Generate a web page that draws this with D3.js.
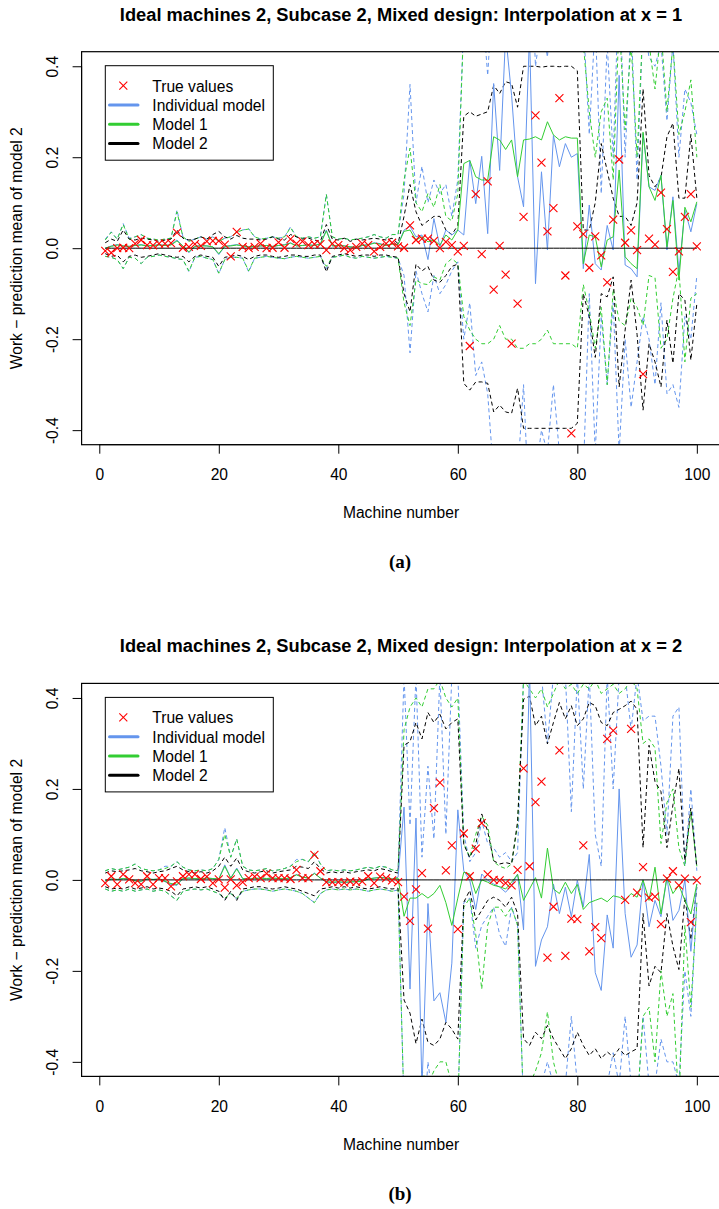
<!DOCTYPE html>
<html><head><meta charset="utf-8">
<script src="https://cdn.jsdelivr.net/npm/d3@7"></script>
<style>body{margin:0;background:#fff}text{font-family:"Liberation Sans",Arial,Helvetica,sans-serif}</style>
</head><body>
<svg id="c" width="719" height="1209"></svg>
<script>
const machines = d3.range(1, 101);
const xTicks = [0, 20, 40, 60, 80, 100];
const yTicks = [-0.4, -0.2, 0, 0.2, 0.4];
const legendLabels = ["True values", "Individual model", "Model 1", "Model 2"];
const titles = ["Ideal machines 2, Subcase 2, Mixed design: Interpolation at x = 1",
                "Ideal machines 2, Subcase 2, Mixed design: Interpolation at x = 2"];
const panelTags = ["(a)", "(b)"];

// ---------- Panel (a) ----------
const trueA = [-0.006,-0.01,0,0.001,0,0.01,0.018,0.007,0.006,0.01,
0.01,0.011,0.034,0.001,0.003,0.009,0.005,0.015,0.016,0.016,
0.008,-0.018,0.036,0.003,0,0.003,0.01,0,0.001,0.013,
0.001,0.02,0.01,0.015,0.007,0.009,0.009,-0.004,0.01,0.007,
0,-0.004,0.003,0.01,0.007,-0.007,0.003,0.01,0.012,0.004,
0.001,0.05,0.018,0.021,0.021,0.016,0,0.014,0.007,-0.007,
0.005,-0.215,0.119,-0.013,0.147,-0.091,0.005,-0.058,-0.21,-0.122,
0.069,0.48,0.292,0.188,0.037,0.088,0.33,-0.06,-0.407,0.048,
0.031,-0.043,0.026,-0.016,-0.075,0.063,0.195,0.012,0.039,-0.004,
-0.277,0.021,0.008,0.122,0.042,-0.052,-0.007,0.069,0.119,0.004];
const indivMeanA = [0,0.005,0.008,0.005,0.004,0.006,0.008,0.005,0.006,0.008,
0.006,0.008,0.018,0.005,-0.01,0.004,0.006,0.005,0.003,-0.014,
0.004,0.006,0.008,0.005,0.003,0.004,0.005,0.006,0.004,0.006,
0.008,0.012,0.005,0.006,0.008,0.006,0.01,0.04,0.005,0.006,
0.005,0.003,0.002,0.006,0.008,0.012,0.01,0.006,0.01,0.008,
0.04,0.048,0.025,0.029,-0.025,0.065,0.003,0.04,0.029,0.04,
0.029,0.193,0.098,0.202,0.032,0.362,0.171,0.47,0.336,0.157,
0.091,0.47,-0.078,0.168,-0.004,0.248,0.179,0.23,0.2,0.208,
-0.045,0.095,-0.034,-0.048,0.05,-0.004,0.38,-0.037,-0.045,-0.063,
0.252,0.135,0.127,0.16,-0.004,0.113,-0.052,0.084,0.036,0.098];
const indivHiA = [0.02,0.036,0.02,0.054,0.022,0.025,0.03,0.022,0.02,0.018,
0.02,0.022,0.084,0.025,0.015,0.02,0.025,0.02,0.025,0.015,
0.022,0.025,0.035,0.04,0.043,0.025,0.02,0.022,0.025,0.022,
0.025,0.047,0.025,0.022,0.025,0.022,0.025,0.119,0.025,0.02,
0.022,0.018,0.02,0.022,0.025,0.03,0.025,0.022,0.03,0.03,
0.12,0.36,0.1,0.18,0.1,0.15,0.12,0.14,0.07,0.15,
0.5,0.45,0.5,0.55,0.38,0.6,0.5,0.7,0.6,0.5,
0.45,0.7,0.4,0.5,0.42,0.6,0.5,0.55,0.5,0.5,
0.5,0.25,0.5,0.12,0.45,0.2,0.6,0.2,0.5,0.15,
0.5,0.42,0.4,0.45,0.28,0.45,0.2,0.35,0.32,0.25];
const indivLoA = [-0.018,-0.02,-0.025,-0.045,-0.02,-0.022,-0.034,-0.02,-0.018,-0.015,
-0.018,-0.02,-0.023,-0.025,-0.052,-0.02,-0.018,-0.022,-0.025,-0.056,
-0.025,-0.02,-0.02,-0.022,-0.052,-0.022,-0.02,-0.018,-0.02,-0.022,
-0.023,-0.02,-0.018,-0.02,-0.022,-0.02,-0.018,-0.045,-0.02,-0.018,
-0.015,-0.02,-0.022,-0.018,-0.02,-0.022,-0.02,-0.018,-0.02,-0.022,
-0.06,-0.23,-0.05,-0.1,-0.14,-0.06,-0.1,-0.08,-0.05,-0.03,
-0.2,-0.12,-0.28,-0.25,-0.32,-0.5,-0.45,-0.5,-0.45,-0.5,
-0.3,-0.6,-0.5,-0.4,-0.45,-0.3,-0.45,-0.6,-0.45,-0.5,
-0.5,-0.1,-0.45,-0.15,-0.3,-0.12,-0.45,-0.2,-0.35,-0.25,
-0.15,-0.2,-0.3,-0.12,-0.32,-0.3,-0.35,-0.15,-0.2,-0.06];
const m1MeanA = [0,0.004,0.007,0.005,0.004,0.006,0.007,0.005,0.006,0.007,
0.006,0.007,0.016,0.005,-0.008,0.004,0.005,0.005,0.003,-0.012,
0.004,0.005,0.007,0.005,0.003,0.004,0.005,0.006,0.004,0.006,
0.007,0.011,0.005,0.006,0.007,0.006,0.009,0.038,0.005,0.006,
0.005,0.003,0.002,0.006,0.007,0.011,0.009,0.006,0.009,0.008,
0.037,0.04,0.018,0.025,0.014,0.018,0.007,0.029,0.018,0.04,
0.186,0.193,0.157,0.15,0.15,0.245,0.238,0.217,0.238,0.157,
0.238,0.24,0.245,0.238,0.278,0.249,0.238,0.245,0.242,0.242,
-0.034,0.029,0.025,-0.041,0.018,0.025,0.172,-0.019,-0.034,-0.045,
0.255,0.135,0.105,0.16,0.003,0.105,-0.07,0.09,0.058,0.102];
const m1HiA = [0.018,0.035,0.02,0.052,0.02,0.025,0.03,0.022,0.02,0.018,
0.02,0.022,0.08,0.025,0.015,0.02,0.025,0.02,0.025,0.015,
0.022,0.025,0.035,0.04,0.042,0.025,0.02,0.022,0.025,0.022,
0.025,0.045,0.025,0.022,0.025,0.022,0.025,0.118,0.025,0.02,
0.022,0.018,0.02,0.022,0.025,0.03,0.025,0.022,0.03,0.03,
0.15,0.22,0.1,0.08,0.12,0.09,0.14,0.07,0.06,0.12,
0.5,0.55,0.48,0.5,0.52,0.6,0.55,0.5,0.58,0.5,
0.55,0.52,0.6,0.55,0.58,0.55,0.5,0.52,0.55,0.5,
0.45,0.3,0.2,0.3,0.33,0.15,0.5,0.26,0.45,0.2,
0.5,0.45,0.35,0.48,0.3,0.45,0.25,0.3,0.37,0.2];
const m1LoA = [-0.018,-0.02,-0.025,-0.045,-0.02,-0.022,-0.034,-0.02,-0.018,-0.015,
-0.018,-0.02,-0.023,-0.025,-0.05,-0.02,-0.018,-0.022,-0.025,-0.055,
-0.025,-0.02,-0.02,-0.022,-0.05,-0.022,-0.02,-0.018,-0.02,-0.022,
-0.023,-0.02,-0.018,-0.02,-0.022,-0.02,-0.018,-0.04,-0.02,-0.018,
-0.015,-0.02,-0.022,-0.018,-0.02,-0.022,-0.02,-0.018,-0.02,-0.022,
-0.12,-0.17,-0.07,-0.078,-0.08,-0.063,-0.07,-0.034,-0.023,-0.034,
-0.15,-0.18,-0.2,-0.21,-0.21,-0.2,-0.17,-0.2,-0.2,-0.22,
-0.22,-0.21,-0.21,-0.2,-0.18,-0.21,-0.21,-0.21,-0.21,-0.22,
-0.08,-0.14,-0.22,-0.13,-0.3,-0.09,-0.16,-0.17,-0.11,-0.13,
-0.17,-0.06,-0.065,-0.22,-0.2,-0.11,-0.045,-0.25,-0.11,-0.1];
const m2MeanA = machines.map(() => 0);
const m2HiA = [0.012,0.02,0.015,0.04,0.02,0.018,0.022,0.02,0.018,0.015,
0.018,0.02,0.04,0.022,0.018,0.02,0.025,0.02,0.03,0.037,
0.025,0.02,0.028,0.022,0.02,0.02,0.018,0.02,0.025,0.02,
0.018,0.03,0.025,0.02,0.022,0.018,0.015,0.052,0.02,0.018,
0.022,0.015,0.02,0.018,0.02,0.022,0.02,0.018,0.022,0.01,
0.07,0.14,0.08,0.05,0.06,0.07,0.07,0.04,0.03,0.05,
0.29,0.3,0.29,0.295,0.3,0.358,0.34,0.366,0.362,0.31,
0.4,0.4,0.4,0.398,0.4,0.4,0.399,0.4,0.4,0.39,
0.04,0.04,0.1,0.23,0.17,0.11,0.07,0.07,0.05,0.1,
0.35,0.16,0.135,0.155,0.245,0.275,0.11,0.11,0.25,0.11];
const m2LoA = [-0.012,-0.018,-0.015,-0.03,-0.018,-0.015,-0.02,-0.018,-0.015,-0.012,
-0.015,-0.018,-0.02,-0.018,-0.03,-0.018,-0.015,-0.018,-0.02,-0.04,
-0.02,-0.018,-0.015,-0.018,-0.025,-0.018,-0.015,-0.015,-0.018,-0.02,
-0.018,-0.015,-0.015,-0.018,-0.018,-0.015,-0.015,-0.052,-0.018,-0.015,
-0.012,-0.015,-0.018,-0.015,-0.015,-0.018,-0.015,-0.015,-0.018,-0.02,
-0.1,-0.14,-0.035,-0.05,-0.04,-0.07,-0.075,-0.06,-0.04,-0.035,
-0.297,-0.312,-0.294,-0.294,-0.297,-0.36,-0.345,-0.36,-0.363,-0.308,
-0.396,-0.396,-0.396,-0.396,-0.396,-0.396,-0.396,-0.396,-0.396,-0.385,
-0.1,-0.15,-0.24,-0.1,-0.107,-0.063,-0.305,-0.18,-0.07,-0.19,
-0.356,-0.21,-0.25,-0.305,-0.158,-0.253,-0.1,-0.114,-0.246,-0.122];

// ---------- Panel (b) ----------
const trueB = [-0.007,0.008,-0.01,0.012,0.001,-0.007,-0.01,0.008,-0.01,0.004,
0.004,-0.014,-0.003,0.008,0.012,0.012,0.002,0.007,-0.007,0.001,
-0.017,0.001,-0.012,-0.005,0.004,0.007,0.004,0.014,0.004,0.004,
0.004,0.002,0.022,0.004,0.004,0.055,0.019,-0.005,-0.005,-0.005,
-0.006,-0.004,-0.005,-0.003,0.008,-0.007,0.007,0.004,-0.001,-0.005,
-0.037,-0.09,-0.021,0.015,-0.107,0.158,0.214,0.021,0.076,-0.108,
0.102,0.008,0.069,0.125,0.012,0,-0.001,-0.007,-0.012,0.022,
0.245,0.03,0.171,0.216,-0.171,-0.059,0.285,-0.167,-0.085,-0.086,
0.076,-0.157,-0.104,-0.128,0.31,0.328,0.47,-0.044,0.332,-0.028,
0.028,-0.039,-0.037,-0.097,0.003,0.019,-0.012,0.003,-0.093,-0.001];
const indivMeanB = [-0.003,0.002,0.001,0.003,0.002,-0.002,-0.003,0.002,0.001,0.002,
-0.004,-0.01,-0.012,0.003,0.004,0.003,0.002,0.004,0.003,0.002,
0.033,0.004,0.026,0.003,0.002,0.003,0.004,0.003,0.004,0.003,
0.002,0.005,0.012,0.006,0.004,0.015,0.004,-0.005,-0.006,-0.005,
-0.006,-0.005,-0.004,-0.003,0.002,0.004,0.006,0.004,0.002,0.006,
0.16,-0.24,0.136,-0.46,-0.052,-0.266,-0.248,-0.313,-0.183,0.154,
0.02,-0.001,-0.065,0.013,-0.001,-0.009,-0.016,-0.027,-0.012,0.013,
-0.11,0.47,-0.19,-0.132,-0.103,-0.009,-0.074,-0.016,-0.081,-0.001,
-0.059,0.056,-0.204,-0.243,-0.077,-0.15,0.2,-0.074,-0.17,-0.143,
0,-0.103,-0.045,-0.081,0.006,-0.089,-0.067,0,-0.157,-0.009];
const indivHiB = [0.02,0.025,0.022,0.025,0.028,0.035,0.025,0.022,0.02,0.022,
0.03,0.03,0.04,0.028,0.022,0.02,0.022,0.02,0.025,0.045,
0.115,0.05,0.09,0.03,0.022,0.02,0.022,0.025,0.02,0.022,
0.025,0.03,0.045,0.045,0.04,0.06,0.035,0.02,0.022,0.02,
0.022,0.02,0.022,0.025,0.028,0.025,0.03,0.028,0.022,0.02,
0.45,0.12,0.45,0.05,0.25,0.09,0.45,0.1,0.45,0.45,
0.1,0.04,0.06,0.13,0.08,0.07,0.05,0.06,0.04,0.06,
0.45,0.6,0.45,0.45,0.3,0.45,0.5,0.45,0.15,0.45,
0.2,0.45,0.1,0.03,0.45,0.2,0.45,0.45,0.33,0.45,
0.35,0.36,0.36,0.25,0.1,0.36,0.38,0.03,0.2,0.02];
const indivLoB = [-0.02,-0.025,-0.022,-0.025,-0.02,-0.025,-0.022,-0.02,-0.025,-0.022,
-0.025,-0.035,-0.045,-0.025,-0.022,-0.02,-0.022,-0.02,-0.025,-0.03,
-0.042,-0.03,-0.042,-0.025,-0.022,-0.02,-0.02,-0.022,-0.025,-0.022,
-0.02,-0.022,-0.025,-0.03,-0.04,-0.05,-0.03,-0.022,-0.02,-0.022,
-0.02,-0.022,-0.02,-0.022,-0.025,-0.022,-0.02,-0.022,-0.025,-0.022,
-0.5,-0.45,-0.5,-0.6,-0.4,-0.5,-0.5,-0.5,-0.45,-0.5,
-0.05,-0.04,-0.15,-0.1,-0.08,-0.06,-0.12,-0.146,-0.06,-0.1,
-0.5,-0.45,-0.5,-0.45,-0.4,-0.45,-0.5,-0.45,-0.3,-0.45,
-0.45,-0.5,-0.45,-0.5,-0.45,-0.38,-0.45,-0.3,-0.45,-0.5,
-0.3,-0.45,-0.45,-0.35,-0.4,-0.4,-0.45,-0.2,-0.3,-0.05];
const m1MeanB = [-0.002,0.002,0.001,0.003,0.002,-0.002,-0.003,0.002,0.001,0.002,
-0.003,-0.008,-0.01,0.003,0.004,0.003,0.002,0.004,0.003,0.002,
0.03,0.004,0.024,0.003,0.002,0.003,0.004,0.003,0.004,0.003,
0.002,0.005,0.011,0.006,0.004,0.014,0.004,-0.004,-0.005,-0.004,
-0.005,-0.004,-0.004,-0.003,0.002,0.004,0.005,0.004,0.002,0.004,
-0.08,-0.04,-0.04,-0.03,-0.04,-0.03,-0.012,-0.05,-0.1,-0.04,
0.017,0.013,-0.03,0,-0.005,-0.012,-0.015,-0.02,-0.005,0.012,
-0.045,-0.02,0.005,-0.04,0.07,-0.02,-0.03,-0.005,-0.03,-0.01,
-0.065,-0.05,-0.045,-0.04,-0.048,-0.035,-0.038,-0.045,-0.03,-0.038,
0,-0.045,0.028,-0.075,0.006,-0.03,-0.012,-0.045,-0.075,-0.009];
const m1HiB = [0.02,0.025,0.022,0.025,0.028,0.035,0.025,0.022,0.02,0.022,
0.025,0.03,0.04,0.028,0.022,0.02,0.022,0.02,0.025,0.045,
0.1,0.05,0.09,0.03,0.022,0.02,0.022,0.025,0.02,0.022,
0.025,0.03,0.04,0.045,0.04,0.06,0.035,0.02,0.022,0.02,
0.022,0.02,0.022,0.025,0.028,0.025,0.03,0.028,0.022,0.02,
0.33,0.38,0.4,0.38,0.42,0.42,0.44,0.4,0.38,0.4,
0.08,0.05,0.1,0.14,0.12,0.04,0.03,0.025,0.035,0.12,
0.44,0.42,0.4,0.42,0.38,0.41,0.44,0.42,0.43,0.41,
0.43,0.42,0.44,0.41,0.42,0.43,0.41,0.42,0.44,0.42,
0.3,0.31,0.29,0.08,0.17,0.2,0.07,0.03,0.15,0.03];
const m1LoB = [-0.02,-0.025,-0.022,-0.025,-0.02,-0.025,-0.022,-0.02,-0.025,-0.022,
-0.025,-0.035,-0.045,-0.025,-0.022,-0.02,-0.022,-0.02,-0.025,-0.03,
-0.04,-0.03,-0.04,-0.025,-0.022,-0.02,-0.02,-0.022,-0.025,-0.022,
-0.02,-0.022,-0.025,-0.03,-0.04,-0.05,-0.03,-0.022,-0.02,-0.022,
-0.02,-0.022,-0.02,-0.022,-0.025,-0.022,-0.02,-0.022,-0.025,-0.022,
-0.5,-0.45,-0.5,-0.42,-0.45,-0.42,-0.4,-0.4,-0.45,-0.5,
-0.06,-0.04,-0.12,-0.24,-0.1,-0.06,-0.06,-0.08,-0.06,-0.1,
-0.5,-0.45,-0.42,-0.38,-0.29,-0.4,-0.45,-0.5,-0.45,-0.5,
-0.45,-0.5,-0.45,-0.5,-0.45,-0.5,-0.45,-0.5,-0.45,-0.5,
-0.3,-0.28,-0.4,-0.2,-0.3,-0.25,-0.5,-0.1,-0.28,-0.05];
const m2MeanB = machines.map(() => 0);
const m2HiB = [0.015,0.02,0.018,0.02,0.022,0.025,0.02,0.018,0.015,0.018,
0.02,0.025,0.03,0.022,0.018,0.015,0.018,0.015,0.02,0.03,
0.05,0.03,0.048,0.022,0.018,0.015,0.018,0.02,0.015,0.018,
0.02,0.022,0.03,0.028,0.025,0.04,0.025,0.015,0.018,0.015,
0.018,0.015,0.018,0.02,0.022,0.02,0.025,0.022,0.018,0.015,
0.296,0.304,0.346,0.31,0.368,0.346,0.364,0.332,0.346,0.354,
0.078,0.049,0.078,0.145,0.107,0.042,0.035,0.038,0.035,0.128,
0.397,0.404,0.339,0.36,0.299,0.346,0.39,0.354,0.383,0.339,
0.354,0.39,0.383,0.346,0.339,0.368,0.375,0.383,0.393,0.375,
0.071,0.296,0.216,0.194,0.071,0.165,0.245,0.042,0.158,0.028];
const m2LoB = [-0.015,-0.02,-0.018,-0.02,-0.015,-0.02,-0.018,-0.015,-0.02,-0.018,
-0.02,-0.025,-0.035,-0.02,-0.018,-0.015,-0.018,-0.015,-0.02,-0.025,
-0.045,-0.025,-0.045,-0.02,-0.018,-0.015,-0.015,-0.018,-0.02,-0.018,
-0.015,-0.018,-0.02,-0.025,-0.03,-0.035,-0.02,-0.018,-0.015,-0.018,
-0.015,-0.018,-0.015,-0.018,-0.02,-0.018,-0.015,-0.018,-0.02,-0.018,
-0.264,-0.293,-0.36,-0.306,-0.357,-0.364,-0.35,-0.313,-0.328,-0.35,
-0.049,-0.023,-0.088,-0.067,-0.045,-0.038,-0.045,-0.06,-0.038,-0.074,
-0.349,-0.364,-0.335,-0.349,-0.32,-0.349,-0.371,-0.393,-0.371,-0.335,
-0.364,-0.386,-0.371,-0.393,-0.378,-0.389,-0.371,-0.386,-0.378,-0.371,
-0.074,-0.233,-0.19,-0.204,-0.074,-0.146,-0.197,-0.038,-0.132,-0.016];

const COL_IND = "#6495ED", COL_M1 = "#32CD32", COL_M2 = "#000000", COL_TRUE = "#FF0000";

const panels = [
  {title: titles[0], tag: panelTags[0], top: 51.7, truth: trueA,
   series: [
     {mean: indivMeanA, hi: indivHiA, lo: indivLoA, color: COL_IND},
     {mean: m1MeanA, hi: m1HiA, lo: m1LoA, color: COL_M1},
     {mean: m2MeanA, hi: m2HiA, lo: m2LoA, color: COL_M2}]},
  {title: titles[1], tag: panelTags[1], top: 683.4, truth: trueB,
   series: [
     {mean: indivMeanB, hi: indivHiB, lo: indivLoB, color: COL_IND},
     {mean: m1MeanB, hi: m1HiB, lo: m1LoB, color: COL_M1},
     {mean: m2MeanB, hi: m2HiB, lo: m2LoB, color: COL_M2}]}
];

const svg = d3.select("#c");
const FS = 15.6;
const left = 81.6, right = 720.5, plotH = 393;
const x = d3.scaleLinear().domain([-2.96, 103.96]).range([left, right]);

panels.forEach((p, pi) => {
  const top = p.top, bottom = top + plotH;
  const y = d3.scaleLinear().domain([-0.432, 0.432]).range([bottom, top]);
  const g = svg.append("g");
  const clipId = "clip" + pi;
  svg.append("clipPath").attr("id", clipId).append("rect")
    .attr("x", left).attr("y", top).attr("width", right - left).attr("height", plotH);
  const plot = g.append("g").attr("clip-path", `url(#${clipId})`);
  const line = arr => d3.line().x((d, i) => x(machines[i])).y(d => y(d))(arr);

  // dashed bounds
  p.series.forEach(s => {
    [s.hi, s.lo].forEach(b => {
      plot.append("path").attr("d", line(b)).attr("fill", "none")
        .attr("stroke", s.color).attr("stroke-width", 1).attr("stroke-dasharray", "4,3");
    });
  });
  // means
  p.series.forEach(s => {
    plot.append("path").attr("d", line(s.mean)).attr("fill", "none")
      .attr("stroke", s.color).attr("stroke-width", 1);
  });
  // true values as crosses
  const r = 4;
  plot.selectAll(null).data(p.truth).enter().append("path")
    .attr("d", (d, i) => {
      const cx = x(machines[i]), cy = y(d);
      return `M${cx - r},${cy - r}L${cx + r},${cy + r}M${cx - r},${cy + r}L${cx + r},${cy - r}`;
    })
    .attr("stroke", COL_TRUE).attr("stroke-width", 1.1).attr("fill", "none");

  // box
  g.append("rect").attr("x", left).attr("y", top).attr("width", right - left).attr("height", plotH)
    .attr("fill", "none").attr("stroke", "#000").attr("stroke-width", 1.2);

  // x axis
  const xa = g.append("g").attr("transform", `translate(0,${bottom})`)
    .call(d3.axisBottom(x).tickValues(xTicks).tickSize(9).tickPadding(15).tickFormat(d3.format("d")));
  xa.select(".domain").remove();
  xa.selectAll("line").attr("stroke-width", 1);
  xa.selectAll("text").attr("dy", null).attr("y", 35.5)
    .attr("font-size", FS).attr("font-family", "Liberation Sans, Arial, sans-serif").attr("fill", "#000");
  g.append("line").attr("x1", x(0)).attr("x2", x(100)).attr("y1", bottom).attr("y2", bottom).attr("stroke", "#000");

  // y axis
  const ya = g.append("g").attr("transform", `translate(${left},0)`)
    .call(d3.axisLeft(y).tickValues(yTicks).tickSize(9).tickFormat(d3.format(".1f")));
  ya.select(".domain").remove();
  ya.selectAll("text").attr("x", null).attr("dy", null)
    .attr("text-anchor", "middle").attr("transform", "translate(-24,0) rotate(-90)")
    .attr("font-size", FS).attr("font-family", "Liberation Sans, Arial, sans-serif").attr("fill", "#000")
    .text(d => d3.format(".1f")(d).replace("\u2212", "-"));
  g.append("line").attr("x1", left).attr("x2", left).attr("y1", y(-0.4)).attr("y2", y(0.4)).attr("stroke", "#000");

  // titles and labels
  g.append("text").attr("x", 401).attr("y", top - 31).attr("text-anchor", "middle")
    .attr("font-size", 18.3).attr("font-weight", "bold").text(p.title);
  g.append("text").attr("x", 401).attr("y", bottom + 73.5).attr("text-anchor", "middle")
    .attr("font-size", FS).text("Machine number");
  g.append("text").attr("transform", `translate(21.5,${(top + bottom) / 2}) rotate(-90)`)
    .attr("text-anchor", "middle").attr("font-size", FS).text("Work \u2212 prediction mean of model 2");
  g.append("text").attr("x", 400).attr("y", bottom + 123.5).attr("text-anchor", "middle")
    .attr("font-size", 19).attr("font-weight", "bold")
    .style("font-family", "'Liberation Serif', 'Times New Roman', serif")
    .text(p.tag);

  // legend
  const lx = 105.3, ly = top + 14, lw = 168, lh = 94.5;
  const lg = g.append("g");
  lg.append("rect").attr("x", lx).attr("y", ly).attr("width", lw).attr("height", lh)
    .attr("fill", "#fff").attr("stroke", "#000").attr("stroke-width", 1);
  const legendColors = [COL_TRUE, COL_IND, COL_M1, COL_M2];
  legendLabels.forEach((lab, i) => {
    const cy = ly + 20 + i * 19.3;
    if (i === 0) {
      const cx = 123.3, rr = 4;
      lg.append("path").attr("d", `M${cx - rr},${cy - rr}L${cx + rr},${cy + rr}M${cx - rr},${cy + rr}L${cx + rr},${cy - rr}`)
        .attr("stroke", COL_TRUE).attr("stroke-width", 1.1);
    } else {
      lg.append("line").attr("x1", 109.5).attr("x2", 138).attr("y1", cy).attr("y2", cy)
        .attr("stroke", legendColors[i]).attr("stroke-width", 3).attr("stroke-linecap", "round");
    }
    lg.append("text").attr("x", 152.3).attr("y", cy + 5.8).attr("font-size", FS).text(lab);
  });
});
</script>
</body></html>
